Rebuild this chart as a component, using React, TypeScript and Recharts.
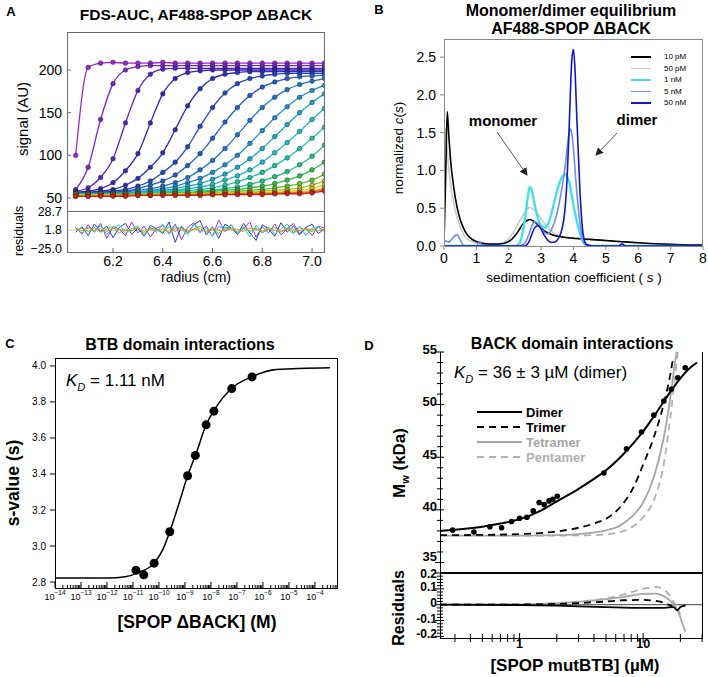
import React from "react";
import {
  ComposedChart,
  Line,
  Scatter,
  XAxis,
  YAxis,
  ReferenceLine,
} from "recharts";

const FONT = '"Liberation Sans", Arial, Helvetica, sans-serif';

/* ---------------- A: FDS-AUC scans ---------------- */

const aRadius = [6.05, 6.1, 6.15, 6.2, 6.25, 6.3, 6.35, 6.4, 6.45, 6.5, 6.55, 6.6, 6.65, 6.7, 6.75, 6.8, 6.85, 6.9, 6.95, 7.0, 7.05];

const scan01 = [100, 203, 208, 209, 208, 208, 208, 209, 208, 208, 208, 208, 208, 208, 208, 208, 208, 208, 208, 208, 208];
const scan02 = [60, 86, 142, 184, 200, 204, 205, 205, 205, 205, 205, 205, 205, 205, 205, 205, 205, 205, 205, 205, 205];
const scan03 = [58, 62, 74, 96, 138, 176, 195, 201, 202, 202, 202, 202, 202, 202, 202, 202, 202, 202, 202, 202, 202];
const scan04 = [57, 58, 61, 68, 82, 102, 138, 172, 190, 197, 199, 200, 200, 200, 200, 200, 200, 200, 200, 200, 200];
const scan05 = [56, 57, 58, 60, 65, 73, 86, 103, 130, 158, 178, 190, 195, 197, 198, 198, 198, 198, 198, 198, 198];
const scan06 = [56, 56, 57, 58, 60, 64, 70, 80, 92, 110, 134, 156, 173, 184, 190, 193, 195, 196, 196, 196, 196];
const scan07 = [56, 56, 56, 57, 58, 61, 65, 70, 77, 88, 102, 120, 139, 156, 170, 180, 186, 190, 192, 193, 194];
const scan08 = [55, 55, 56, 56, 57, 59, 61, 64, 68, 74, 83, 94, 108, 124, 141, 156, 168, 177, 183, 187, 190];
const scan09 = [55, 55, 55, 56, 56, 57, 59, 61, 64, 68, 73, 80, 89, 100, 114, 129, 144, 157, 168, 176, 182];
const scan10 = [55, 55, 55, 55, 56, 57, 58, 59, 61, 64, 67, 72, 78, 86, 96, 108, 122, 136, 150, 162, 172];
const scan11 = [55, 55, 55, 55, 55, 56, 57, 58, 59, 61, 63, 66, 71, 76, 83, 92, 103, 115, 128, 142, 155];
const scan12 = [55, 55, 55, 55, 55, 55, 56, 57, 58, 59, 60, 62, 65, 69, 74, 80, 88, 97, 108, 120, 133];
const scan13 = [55, 55, 55, 55, 55, 55, 55, 56, 57, 57, 58, 59, 61, 63, 66, 70, 75, 81, 89, 99, 112];
const scan14 = [54, 54, 55, 55, 55, 55, 55, 55, 56, 56, 57, 58, 59, 60, 62, 64, 67, 71, 76, 83, 92];
const scan15 = [54, 54, 54, 54, 55, 55, 55, 55, 55, 56, 56, 57, 57, 58, 59, 60, 62, 64, 67, 71, 78];
const scan16 = [54, 54, 54, 54, 54, 54, 55, 55, 55, 55, 55, 56, 56, 57, 57, 58, 59, 60, 62, 65, 70];
const scan17 = [53, 53, 54, 54, 54, 54, 54, 54, 55, 55, 55, 55, 56, 56, 56, 57, 57, 58, 59, 61, 66];
const scan18 = [53, 53, 53, 53, 54, 54, 54, 54, 54, 54, 55, 55, 55, 55, 56, 56, 56, 57, 57, 58, 62];
const scan19 = [52, 52, 53, 53, 53, 53, 53, 54, 54, 54, 54, 54, 54, 55, 55, 55, 55, 56, 56, 57, 60];
const scan20 = [52, 52, 52, 52, 52, 53, 53, 53, 53, 53, 53, 54, 54, 54, 54, 54, 55, 55, 55, 56, 58];

const aScans = [scan01, scan02, scan03, scan04, scan05, scan06, scan07, scan08, scan09, scan10, scan11, scan12, scan13, scan14, scan15, scan16, scan17, scan18, scan19, scan20];
const aScanColors = ["#9b27d6", "#7d22d0", "#5c21c6", "#3d22bd", "#2a2fbe", "#2244c4", "#1f5bcb", "#1c74d0", "#198fd4", "#17a9d2", "#16c0c8", "#15c8a8", "#18c77e", "#2bc24e", "#5ec62a", "#a6cf1e", "#e8c81a", "#f39a17", "#ee5c14", "#d42010"];

const aTicksY = [50, 100, 150, 200];
const aTicksX = [6.2, 6.4, 6.6, 6.8, 7.0];
const aResidTicks = [-25, 1.8, 28.7];

const aResidRadius = [6.05, 6.075, 6.1, 6.125, 6.15, 6.175, 6.2, 6.225, 6.25, 6.275, 6.3, 6.325, 6.35, 6.375, 6.4, 6.425, 6.45, 6.475, 6.5, 6.525, 6.55, 6.575, 6.6, 6.625, 6.65, 6.675, 6.7, 6.725, 6.75, 6.775, 6.8, 6.825, 6.85, 6.875, 6.9, 6.925, 6.95, 6.975, 7.0, 7.025, 7.05];
const residPurple = [6, -4, 10, -1, 12, -10, 7, 4, -6, 14, -2, 8, -8, 5, 9, -3, 11, -12, 6, 13, -1, 8, -7, 17, 0, 10, -4, 5, 14, -8, 7, -2, 11, -5, 4, 12, -3, 6, -6, 8, 5];
const residBlue = [-1, 7, -6, 11, 0, 8, -9, 6, 12, -4, 5, -7, 9, 4, -3, 14, -16, 8, -2, 10, 16, -5, 7, -10, 11, 5, -4, 12, -2, -13, 10, 4, -7, 13, -1, 8, -5, 6, 11, -3, 4];
const residCyan = [4, -2, 7, 0, 9, -4, 5, 10, -3, 4, 8, -6, 6, -1, 11, -4, 7, 4, -5, 12, -2, 5, -7, 8, 3, 10, -3, 6, -8, 9, -1, 7, -4, 4, 11, -2, 8, -6, 5, 7, 0];
const residGreen = [3, 5, 0, 6, -1, 4, 7, -2, 4, 1, 6, -3, 5, 3, -1, 7, 0, 6, -2, 4, 8, -1, 3, -3, 6, 4, -1, 7, 0, 5, -2, 3, 6, -1, 4, -3, 5, 3, 0, 6, 1];
const residOrange = [4, 1, 5, 2, 4, 0, 5, 3, 1, 4, 5, 0, 3, 2, 4, -1, 4, 5, 1, 3, 4, 0, 5, 2, 1, 4, 3, 0, 5, 3, 1, 4, 2, 0, 5, 3, 1, 4, 3, 1, 4];
const aResids = [residPurple, residBlue, residCyan, residGreen, residOrange];
const aResidColors = ["#a030e0", "#2a40d0", "#20c8d8", "#50c040", "#f09020"];

/* ---------------- B: c(s) distributions ---------------- */

const sGrid = [0, 0.05, 0.1, 0.15, 0.2, 0.3, 0.4, 0.5, 0.6, 0.7, 0.8, 1.0, 1.1, 1.2, 1.4, 1.7, 2.0, 2.2, 2.3, 2.4, 2.5, 2.6, 2.65, 2.7, 2.8, 2.9, 3.0, 3.1, 3.2, 3.3, 3.4, 3.5, 3.6, 3.7, 3.75, 3.8, 3.85, 3.9, 3.95, 4.0, 4.05, 4.1, 4.2, 4.3, 4.4, 4.6, 5.0, 5.4, 5.5, 5.6, 6.0, 7.0, 8.0];
const c10pM = [0.02, 0.9, 1.78, 1.45, 1.15, 0.78, 0.52, 0.35, 0.24, 0.16, 0.11, 0.06, 0.045, 0.035, 0.025, 0.025, 0.06, 0.14, 0.2, 0.27, 0.32, 0.345, 0.35, 0.345, 0.32, 0.28, 0.24, 0.2, 0.175, 0.155, 0.14, 0.13, 0.122, 0.116, 0.113, 0.11, 0.108, 0.106, 0.104, 0.102, 0.1, 0.099, 0.096, 0.093, 0.09, 0.085, 0.072, 0.06, 0.057, 0.054, 0.043, 0.022, 0.012];
const c50pM = [1.6, 1.5, 1.25, 1.0, 0.82, 0.56, 0.38, 0.25, 0.16, 0.1, 0.07, 0.04, 0.03, 0.025, 0.02, 0.03, 0.1, 0.22, 0.3, 0.38, 0.45, 0.5, 0.51, 0.5, 0.47, 0.42, 0.36, 0.3, 0.25, 0.2, 0.17, 0.15, 0.135, 0.125, 0.12, 0.115, 0.112, 0.11, 0.108, 0.105, 0.103, 0.1, 0.097, 0.094, 0.09, 0.084, 0.07, 0.057, 0.054, 0.05, 0.04, 0.018, 0.008];
const c1nM = [0, 0, 0, 0, 0, 0, 0, 0, 0, 0, 0, 0, 0, 0, 0, 0, 0, 0, 0.02, 0.12, 0.36, 0.68, 0.78, 0.75, 0.55, 0.37, 0.27, 0.24, 0.28, 0.4, 0.57, 0.74, 0.87, 0.94, 0.95, 0.93, 0.87, 0.78, 0.66, 0.54, 0.43, 0.33, 0.17, 0.05, 0.01, 0, 0, 0, 0, 0, 0, 0, 0];
const c5nM = [0.03, 0.07, 0.06, 0.05, 0.07, 0.12, 0.15, 0.08, 0.01, 0, 0, 0, 0.06, 0, 0, 0, 0, 0, 0, 0.01, 0.04, 0.13, 0.19, 0.25, 0.32, 0.3, 0.24, 0.18, 0.16, 0.2, 0.3, 0.45, 0.66, 0.92, 1.08, 1.28, 1.46, 1.55, 1.48, 1.28, 1.0, 0.72, 0.3, 0.06, 0.01, 0, 0, 0, 0, 0, 0, 0, 0];
const c50nM = [0, 0, 0, 0, 0, 0, 0, 0, 0, 0, 0, 0, 0, 0, 0, 0, 0, 0, 0, 0, 0, 0.04, 0.08, 0.14, 0.24, 0.27, 0.22, 0.14, 0.08, 0.05, 0.05, 0.08, 0.16, 0.35, 0.55, 0.88, 1.38, 1.98, 2.48, 2.6, 2.3, 1.72, 0.72, 0.15, 0.02, 0, 0, 0, 0.03, 0, 0, 0, 0.01];

const bSeries = [
  { key: "pm50", label: "50 pM", color: "#cacaca", width: 1.6 },
  { key: "pm10", label: "10 pM", color: "#000000", width: 1.6 },
  { key: "nm1", label: "1 nM", color: "#45e0e6", width: 2.4 },
  { key: "nm5", label: "5 nM", color: "#6e8fe2", width: 1.6 },
  { key: "nm50", label: "50 nM", color: "#1515c4", width: 1.6 },
];
const bLegendOrder = ["pm10", "pm50", "nm1", "nm5", "nm50"];
const bTicksX = [0, 1, 2, 3, 4, 5, 6, 7, 8];
const bTicksY = [0, 0.5, 1.0, 1.5, 2.0, 2.5];

/* ---------------- C: BTB titration ---------------- */

const cFitConc = [1e-14, 1e-12, 5e-12, 1.7e-11, 6.5e-11, 1.4e-10, 2.6e-10, 6e-10, 1.26e-9, 2.7e-9, 6.5e-9, 1.35e-8, 6.3e-8, 3.8e-7, 3.3e-6, 3.8e-4];
const cFitS = [2.822, 2.823, 2.83, 2.854, 2.905, 2.98, 3.08, 3.24, 3.39, 3.515, 3.673, 3.756, 3.876, 3.94, 3.98, 3.99];
const cPtConc = [1.3e-11, 2.6e-11, 6.5e-11, 2.6e-10, 1.26e-9, 2.5e-9, 6.5e-9, 1.3e-8, 6.3e-8, 3.8e-7];
const cPtS = [2.865, 2.84, 2.905, 3.079, 3.39, 3.503, 3.673, 3.749, 3.874, 3.939];
const cDecades = [-14, -13, -12, -11, -10, -9, -8, -7, -6, -5, -4];
const cMinorMult = [2, 3, 4, 5, 6, 7, 8, 9];
const cTicksY = [2.8, 3.0, 3.2, 3.4, 3.6, 3.8, 4.0];

/* ---------------- D: BACK domain ---------------- */

const dPtConc = [0.287, 0.427, 0.575, 0.715, 0.861, 1.0, 1.146, 1.29, 1.44, 1.58, 1.73, 1.86, 2.02, 4.81, 7.33, 9.7, 12.2, 14.7, 16.9, 19.1, 21.9];
const dPtMw = [38.07, 37.9, 38.4, 38.3, 38.9, 39.2, 39.3, 39.9, 40.7, 40.5, 40.85, 41.0, 41.3, 43.5, 45.8, 47.4, 49.0, 50.35, 51.45, 52.55, 53.5];

const dimerConc = [0.227, 0.3, 0.4, 0.5, 0.7, 1, 1.5, 2, 3, 4, 5, 7, 10, 13, 16, 20, 24, 27.3];
const dimerMw = [38.0, 38.1, 38.25, 38.4, 38.7, 39.1, 39.95, 40.8, 42.0, 42.95, 43.75, 45.35, 47.45, 49.35, 50.95, 52.5, 53.5, 54.0];
const trimerConc = [0.227, 0.5, 1, 2, 3, 4, 5, 6.5, 8.4, 10, 12.2, 14.7, 16.6, 17.5];
const trimerMw = [37.6, 37.62, 37.7, 37.95, 38.3, 38.7, 39.15, 40.25, 42.2, 44.3, 46.9, 50.1, 52.9, 54.5];
const tetramerConc = [0.227, 1, 2, 3, 4, 5, 6.5, 8, 10, 12.2, 14.7, 16.6, 18.2, 19.1];
const tetramerMw = [37.55, 37.56, 37.6, 37.7, 37.85, 38.05, 38.5, 39.3, 40.7, 43.1, 46.9, 50.7, 54.2, 55.8];
const pentamerConc = [0.227, 1, 2, 4, 6, 7.5, 8.9, 10.5, 12.2, 14.7, 16.6, 18.2, 19.4];
const pentamerMw = [37.55, 37.55, 37.56, 37.6, 37.8, 38.15, 38.7, 39.6, 40.9, 44.4, 48.8, 52.9, 55.8];

const resDimerConc = [0.227, 1, 2, 3, 5, 10, 15, 17.5, 19, 20, 22];
const resDimer = [0, -0.002, -0.006, -0.01, -0.015, -0.02, -0.02, -0.015, -0.035, -0.015, -0.005];
const resTrimerConc = [0.227, 1, 2, 3, 5, 7, 10, 13, 15, 17, 18.5];
const resTrimer = [0, 0.001, 0.005, 0.01, 0.02, 0.028, 0.03, 0.022, 0.01, -0.01, -0.03];
const resTetramerConc = [0.227, 1, 2, 3, 5, 7, 10, 12.5, 15, 17, 18.5, 20, 21, 22];
const resTetramer = [0, 0.002, 0.01, 0.018, 0.035, 0.05, 0.068, 0.07, 0.05, 0.015, -0.02, -0.08, -0.13, -0.17];
const resPentamerConc = [0.227, 1, 2, 3, 5, 7, 10, 12.5, 15, 17, 18.5, 20];
const resPentamer = [0, 0.002, 0.01, 0.02, 0.04, 0.065, 0.1, 0.112, 0.09, 0.04, -0.01, -0.06];

const dTicksX = [0.3, 0.4, 0.5, 0.6, 0.7, 0.8, 0.9, 1, 2, 3, 4, 5, 6, 7, 8, 9, 10, 20, 30];
const dTicksMw = [35, 36, 37, 38, 39, 40, 41, 42, 43, 44, 45, 46, 47, 48, 49, 50, 51, 52, 53, 54, 55];
const dTicksRes = [-0.2, -0.18, -0.16, -0.14, -0.12, -0.1, -0.08, -0.06, -0.04, -0.02, 0, 0.02, 0.04, 0.06, 0.08, 0.1, 0.12, 0.14, 0.16, 0.18, 0.2];

const dLegend = [
  { label: "Dimer", color: "#000", dash: undefined, text: "#000" },
  { label: "Trimer", color: "#000", dash: "7 5", text: "#000" },
  { label: "Tetramer", color: "#a6a6a6", dash: undefined, text: "#a6a6a6" },
  { label: "Pentamer", color: "#b0b0b0", dash: "7 5", text: "#b0b0b0" },
];

/* ---------------- helpers ---------------- */

const toRows = (xs: number[], ys: number[]) =>
  xs.map((x, i) => ({ x, y: ys[i] }));

type TickCfg = {
  side: "left" | "bottom";
  major?: (v: number) => boolean;
  fmt: (v: number) => React.ReactNode;
  majIn?: number;
  majOut?: number;
  minIn?: number;
  minOut?: number;
  gap: number;
  size: number;
  bold?: boolean;
  lineColor?: string;
  dy?: (v: number) => number;
};

function makeTick(c: TickCfg) {
  return (p: any) => {
    const x = p.x;
    const y = p.y;
    const v = p.payload.value;
    const isMaj = c.major ? c.major(v) : true;
    const inL = isMaj ? c.majIn ?? 0 : c.minIn ?? 0;
    const outL = isMaj ? c.majOut ?? 0 : c.minOut ?? 0;
    const lc = c.lineColor ?? "#000";
    const txt = {
      fontSize: c.size,
      fontWeight: c.bold ? 700 : 400,
      fill: "#000",
      fontFamily: FONT,
    };
    const shift = c.dy ? c.dy(v) : 0;
    if (c.side === "left") {
      return (
        <g>
          {inL + outL > 0 ? (
            <line x1={x - outL} x2={x + inL} y1={y} y2={y} stroke={lc} strokeWidth={1} />
          ) : null}
          {isMaj ? (
            <text x={x - c.gap} y={y + shift} textAnchor="end" dominantBaseline="central" {...txt}>
              {c.fmt(v)}
            </text>
          ) : null}
        </g>
      );
    }
    return (
      <g>
        {inL + outL > 0 ? (
          <line x1={x} x2={x} y1={y - inL} y2={y + outL} stroke={lc} strokeWidth={1} />
        ) : null}
        {isMaj ? (
          <text x={x} y={y + c.gap + shift} textAnchor="middle" dominantBaseline="hanging" {...txt}>
            {c.fmt(v)}
          </text>
        ) : null}
      </g>
    );
  };
}

const isDecade = (v: number) =>
  Math.abs(Math.log10(v) - Math.round(Math.log10(v))) < 1e-6;

function Txt(props: {
  x: number;
  y: number;
  size: number;
  bold?: boolean;
  italic?: boolean;
  color?: string;
  rotate?: boolean;
  anchor?: "start" | "middle";
  children: React.ReactNode;
}) {
  const tx = props.anchor === "start" ? "0" : "-50%";
  return (
    <div
      style={{
        position: "absolute",
        left: props.x,
        top: props.y,
        transform: `translate(${tx}, -50%)${props.rotate ? " rotate(-90deg)" : ""}`,
        fontSize: props.size,
        fontWeight: props.bold ? 700 : 400,
        fontStyle: props.italic ? "italic" : "normal",
        color: props.color ?? "#000",
        whiteSpace: "nowrap",
        lineHeight: 1,
      }}
    >
      {props.children}
    </div>
  );
}

function Box(props: { l: number; t: number; w: number; h: number; style: React.CSSProperties }) {
  return (
    <div
      style={{
        position: "absolute",
        left: props.l,
        top: props.t,
        width: props.w,
        height: props.h,
        boxSizing: "border-box",
        pointerEvents: "none",
        ...props.style,
      }}
    />
  );
}

const KD = (props: { size: number }) => (
  <>
    <span style={{ fontStyle: "italic" }}>K</span>
    <span style={{ fontStyle: "italic", fontSize: props.size * 0.65, position: "relative", top: props.size * 0.3 }}>D</span>
  </>
);

/* ---------------- panels ---------------- */

function PanelA() {
  const gray = "#6a6a6a";
  return (
    <>
      <div style={{ position: "absolute", left: 0, top: 0 }}>
        <ComposedChart width={340} height={215} margin={{ top: 32, right: 15, bottom: 4, left: 0 }}>
          <XAxis dataKey="x" type="number" domain={[6.015, 7.052]} hide allowDataOverflow />
          <YAxis
            type="number"
            domain={[34.8, 244.5]}
            allowDataOverflow
            ticks={aTicksY}
            interval={0}
            width={67}
            axisLine={false}
            tickLine={false}
            tickSize={0}
            tickMargin={0}
            tick={makeTick({ side: "left", fmt: (v) => String(v), majIn: 4, gap: 5, size: 14, lineColor: gray })}
          />
          {aScans.map((s, i) => (
            <Line
              key={"scan" + i}
              data={toRows(aRadius, s)}
              dataKey="y"
              type="monotone"
              stroke={aScanColors[i]}
              strokeWidth={1.3}
              dot={{ r: 2.3, fill: aScanColors[i], stroke: "#222", strokeWidth: 0.5 }}
              isAnimationActive={false}
            />
          ))}
        </ComposedChart>
      </div>
      <div style={{ position: "absolute", left: 0, top: 205 }}>
        <ComposedChart width={340} height={75} margin={{ top: 6, right: 15, bottom: 0, left: 0 }}>
          <XAxis
            dataKey="x"
            type="number"
            domain={[6.015, 7.052]}
            allowDataOverflow
            ticks={aTicksX}
            interval={0}
            height={28}
            axisLine={false}
            tickLine={false}
            tickSize={0}
            tickMargin={0}
            tick={makeTick({ side: "bottom", fmt: (v) => v.toFixed(1), majIn: 4, gap: 4, size: 14, lineColor: gray })}
          />
          <YAxis
            type="number"
            domain={[-30.1, 30.2]}
            allowDataOverflow
            ticks={aResidTicks}
            interval={0}
            width={67}
            axisLine={false}
            tickLine={false}
            tickSize={0}
            tickMargin={0}
            tick={makeTick({
              side: "left",
              fmt: (v) => (v < 0 ? "\u2212" + Math.abs(v).toFixed(1) : v.toFixed(1)),
              gap: 5,
              size: 12.5,
            })}
          />
          <ReferenceLine y={1.8} stroke="#cfcfcf" strokeWidth={1} />
          {aResids.map((r, i) => (
            <Line
              key={"res" + i}
              data={toRows(aResidRadius, r)}
              dataKey="y"
              type="linear"
              stroke={aResidColors[i]}
              strokeWidth={1}
              dot={false}
              isAnimationActive={false}
            />
          ))}
        </ComposedChart>
      </div>
      <Box l={67} t={32} w={258} h={180} style={{ border: "1px solid " + gray }} />
      <Box l={67} t={211} w={258} h={42} style={{ border: "1px solid " + gray }} />
      <Txt x={11} y={11} size={13} bold>A</Txt>
      <Txt x={196} y={15} size={15.5} bold>FDS-AUC, AF488-SPOP ΔBACK</Txt>
      <Txt x={22} y={119} size={15} rotate>signal (AU)</Txt>
      <Txt x={19} y={231} size={12.5} rotate>residuals</Txt>
      <Txt x={196} y={277} size={14}>radius (cm)</Txt>
    </>
  );
}

function PanelB() {
  const rows = sGrid.map((s, i) => ({
    s,
    pm10: c10pM[i],
    pm50: c50pM[i],
    nm1: c1nM[i],
    nm5: c5nM[i],
    nm50: c50nM[i],
  }));
  const gray = "#8a8a8a";
  return (
    <>
      <div style={{ position: "absolute", left: 354, top: 0 }}>
        <ComposedChart width={354} height={290} data={rows} margin={{ top: 39, right: 5, bottom: 0, left: 0 }}>
          <XAxis
            dataKey="s"
            type="number"
            domain={[0, 8]}
            allowDataOverflow
            ticks={bTicksX}
            interval={0}
            height={44}
            axisLine={false}
            tickLine={false}
            tickSize={0}
            tickMargin={0}
            tick={makeTick({ side: "bottom", fmt: (v) => String(v), majOut: 4, gap: 7, size: 14, lineColor: gray })}
          />
          <YAxis
            type="number"
            domain={[0, 2.74]}
            allowDataOverflow
            ticks={bTicksY}
            interval={0}
            width={90}
            axisLine={false}
            tickLine={false}
            tickSize={0}
            tickMargin={0}
            tick={makeTick({ side: "left", fmt: (v) => v.toFixed(1), majOut: 4, gap: 8, size: 14, lineColor: gray })}
          />
          {bSeries.map((s) => (
            <Line
              key={s.key}
              dataKey={s.key}
              type="monotone"
              stroke={s.color}
              strokeWidth={s.width}
              dot={false}
              isAnimationActive={false}
            />
          ))}
        </ComposedChart>
      </div>
      <Box l={444} t={39} w={259} h={208} style={{ border: "1px solid " + gray }} />
      <Txt x={379} y={9} size={13} bold>B</Txt>
      <Txt x={571} y={11} size={16} bold>Monomer/dimer equilibrium</Txt>
      <Txt x={571} y={29} size={16} bold>AF488-SPOP ΔBACK</Txt>
      <Txt x={399} y={148} size={13.5} rotate>
        normalized <span style={{ fontStyle: "italic" }}>c</span>(<span style={{ fontStyle: "italic" }}>s</span>)
      </Txt>
      <Txt x={574} y={278} size={13.5}>
        sedimentation coefficient ( <span style={{ fontStyle: "italic" }}>s</span> )
      </Txt>
      <Txt x={503} y={120} size={15} bold>monomer</Txt>
      <Txt x={637} y={119} size={15} bold>dimer</Txt>
      {bLegendOrder.map((k, i) => {
        const s = bSeries.find((b) => b.key === k)!;
        const y = 57 + i * 11.5;
        return (
          <React.Fragment key={k}>
            <div
              style={{
                position: "absolute",
                left: 631,
                top: y - s.width / 2,
                width: 20,
                height: s.width,
                background: s.color,
              }}
            />
            <Txt x={664} y={y} size={8} anchor="start">{s.label}</Txt>
          </React.Fragment>
        );
      })}
    </>
  );
}

function PanelC() {
  const ticksX = cDecades.flatMap((d) =>
    d < -4
      ? [Math.pow(10, d), ...cMinorMult.map((m) => m * Math.pow(10, d))]
      : [Math.pow(10, d), 2e-4, 3e-4, 4e-4, 5e-4, 6e-4, 7e-4]
  );
  return (
    <>
      <div style={{ position: "absolute", left: 0, top: 330 }}>
        <ComposedChart width={354} height={347} margin={{ top: 28, right: 16, bottom: 49, left: 0 }}>
          <XAxis
            dataKey="x"
            type="number"
            scale="log"
            domain={[1e-14, 7.7e-4]}
            allowDataOverflow
            ticks={ticksX}
            interval={0}
            height={40}
            axisLine={false}
            tickLine={false}
            tickSize={0}
            tickMargin={0}
            tick={makeTick({
              side: "bottom",
              major: isDecade,
              fmt: (v) => (
                <>
                  <tspan>10</tspan>
                  <tspan dy={-4} fontSize={6.5}>{"\u2212" + Math.abs(Math.round(Math.log10(v)))}</tspan>
                </>
              ),
              majIn: 6,
              minIn: 3,
              gap: 6,
              size: 9,
            })}
          />
          <YAxis
            type="number"
            domain={[2.767, 4.044]}
            allowDataOverflow
            ticks={cTicksY}
            interval={0}
            width={55}
            axisLine={false}
            tickLine={false}
            tickSize={0}
            tickMargin={0}
            tick={makeTick({ side: "left", fmt: (v) => v.toFixed(1), majOut: 5, gap: 9, size: 10 })}
          />
          <Line
            data={toRows(cFitConc, cFitS)}
            dataKey="y"
            type="monotone"
            stroke="#000"
            strokeWidth={1.5}
            dot={false}
            isAnimationActive={false}
          />
          <Scatter
            data={toRows(cPtConc, cPtS)}
            dataKey="y"
            fill="#000"
            isAnimationActive={false}
            shape={(p: any) => <circle cx={p.cx} cy={p.cy} r={4.5} fill="#000" />}
          />
        </ComposedChart>
      </div>
      <Box l={55} t={358} w={283} h={231} style={{ border: "1px solid #000" }} />
      <Txt x={10} y={343} size={13} bold>C</Txt>
      <Txt x={180} y={345} size={16} bold>BTB domain interactions</Txt>
      <Txt x={66} y={380} size={17} anchor="start">
        <KD size={17} /> = 1.11 nM
      </Txt>
      <Txt x={14} y={483} size={17.5} bold rotate>s-value (s)</Txt>
      <Txt x={197} y={623} size={17.5} bold>[SPOP ΔBACK] (M)</Txt>
    </>
  );
}

function PanelD() {
  const xDomain = [0.227, 30.5];
  return (
    <>
      <div style={{ position: "absolute", left: 354, top: 330 }}>
        <ComposedChart width={354} height={245} margin={{ top: 22, right: 5, bottom: 2, left: 0 }}>
          <XAxis dataKey="x" type="number" scale="log" domain={xDomain} allowDataOverflow hide />
          <YAxis
            type="number"
            domain={[34, 55]}
            allowDataOverflow
            ticks={dTicksMw}
            interval={0}
            width={86}
            axisLine={false}
            tickLine={false}
            tickSize={0}
            tickMargin={0}
            tick={makeTick({
              side: "left",
              major: (v) => v % 5 === 0,
              fmt: (v) => String(v),
              majOut: 5,
              majIn: 4,
              minOut: 3,
              minIn: 3,
              gap: 3,
              dy: (v) => (v === 35 ? -6 : -3),
              size: 13,
              bold: true,
            })}
          />
          <Line data={toRows(pentamerConc, pentamerMw)} dataKey="y" type="monotone" stroke="#b0b0b0" strokeWidth={1.8} strokeDasharray="7 5" dot={false} isAnimationActive={false} />
          <Line data={toRows(tetramerConc, tetramerMw)} dataKey="y" type="monotone" stroke="#a6a6a6" strokeWidth={1.8} dot={false} isAnimationActive={false} />
          <Line data={toRows(trimerConc, trimerMw)} dataKey="y" type="monotone" stroke="#000" strokeWidth={1.8} strokeDasharray="7 5" dot={false} isAnimationActive={false} />
          <Line data={toRows(dimerConc, dimerMw)} dataKey="y" type="monotone" stroke="#000" strokeWidth={2} dot={false} isAnimationActive={false} />
          <Scatter
            data={toRows(dPtConc, dPtMw)}
            dataKey="y"
            fill="#000"
            isAnimationActive={false}
            shape={(p: any) => <circle cx={p.cx} cy={p.cy} r={2.8} fill="#000" />}
          />
        </ComposedChart>
      </div>
      <div style={{ position: "absolute", left: 354, top: 565 }}>
        <ComposedChart width={354} height={112} margin={{ top: 8, right: 5, bottom: 0, left: 0 }}>
          <XAxis
            dataKey="x"
            type="number"
            scale="log"
            domain={xDomain}
            allowDataOverflow
            ticks={dTicksX}
            interval={0}
            height={39}
            axisLine={false}
            tickLine={false}
            tickSize={0}
            tickMargin={0}
            tick={makeTick({
              side: "bottom",
              major: isDecade,
              fmt: (v) => String(v),
              majIn: 5,
              majOut: 5,
              minIn: 4,
              minOut: 4,
              gap: 1,
              size: 12.5,
              bold: true,
            })}
          />
          <YAxis
            type="number"
            domain={[-0.21, 0.2]}
            allowDataOverflow
            ticks={dTicksRes}
            interval={0}
            width={86}
            axisLine={false}
            tickLine={false}
            tickSize={0}
            tickMargin={0}
            tick={makeTick({
              side: "left",
              major: (v) => Math.abs(v * 10 - Math.round(v * 10)) < 1e-6,
              fmt: (v) => (v === 0 ? "0" : v.toFixed(1)),
              majOut: 5,
              majIn: 4,
              minOut: 3,
              minIn: 3,
              gap: 3,
              dy: (v) => (v > 0.15 ? 1 : -2),
              size: 12,
              bold: true,
            })}
          />
          <ReferenceLine y={0} stroke="#444" strokeWidth={1} />
          <Line data={toRows(resPentamerConc, resPentamer)} dataKey="y" type="monotone" stroke="#b0b0b0" strokeWidth={1.8} strokeDasharray="7 5" dot={false} isAnimationActive={false} />
          <Line data={toRows(resTetramerConc, resTetramer)} dataKey="y" type="monotone" stroke="#a6a6a6" strokeWidth={1.8} dot={false} isAnimationActive={false} />
          <Line data={toRows(resTrimerConc, resTrimer)} dataKey="y" type="monotone" stroke="#000" strokeWidth={1.8} strokeDasharray="7 5" dot={false} isAnimationActive={false} />
          <Line data={toRows(resDimerConc, resDimer)} dataKey="y" type="monotone" stroke="#000" strokeWidth={1.8} dot={false} isAnimationActive={false} />
        </ComposedChart>
      </div>
      <Box
        l={440}
        t={352}
        w={263}
        h={287}
        style={{ borderLeft: "1.5px solid #000", borderRight: "1px solid #000", borderBottom: "1px solid #000" }}
      />
      <Box l={440} t={572} w={263} h={2} style={{ background: "#000" }} />
      <Txt x={369} y={345} size={13} bold>D</Txt>
      <Txt x={572} y={344} size={16} bold>BACK domain interactions</Txt>
      <Txt x={454} y={372} size={17} anchor="start">
        <KD size={17} /> = 36 ± 3 µM (dimer)
      </Txt>
      <Txt x={399} y={463} size={17} bold rotate>
        M<span style={{ fontSize: 11, position: "relative", top: 4 }}>w</span> (kDa)
      </Txt>
      <Txt x={399} y={608} size={16} bold rotate>Residuals</Txt>
      <Txt x={575} y={665} size={17} bold>[SPOP mutBTB] (µM)</Txt>
      <svg style={{ position: "absolute", left: 0, top: 0 }} width={708} height={677}>
        {dLegend.map((d, i) => (
          <line
            key={d.label}
            x1={477}
            x2={522}
            y1={412 + i * 15}
            y2={412 + i * 15}
            stroke={d.color}
            strokeWidth={2}
            strokeDasharray={d.dash}
          />
        ))}
      </svg>
      {dLegend.map((d, i) => (
        <Txt key={d.label} x={526} y={412 + i * 15} size={13} bold color={d.text} anchor="start">
          {d.label}
        </Txt>
      ))}
    </>
  );
}

function Arrows() {
  return (
    <svg style={{ position: "absolute", left: 0, top: 0, pointerEvents: "none" }} width={708} height={677}>
      <defs>
        <marker id="ah" markerWidth="8" markerHeight="8" refX="7" refY="4" orient="auto" markerUnits="userSpaceOnUse">
          <path d="M0,0 L8,4 L0,8 Z" fill="#222" />
        </marker>
      </defs>
      <line x1={497} y1={132} x2={527} y2={175} stroke="#444" strokeWidth={0.9} markerEnd="url(#ah)" />
      <line x1={617} y1={133} x2={596} y2={155} stroke="#444" strokeWidth={0.9} markerEnd="url(#ah)" />
    </svg>
  );
}

export default function App() {
  return (
    <div
      style={{
        position: "absolute",
        left: 0,
        top: 0,
        width: 708,
        height: 677,
        background: "#fff",
        fontFamily: FONT,
        overflow: "hidden",
      }}
    >
      <PanelA />
      <PanelB />
      <PanelC />
      <PanelD />
      <Arrows />
    </div>
  );
}
